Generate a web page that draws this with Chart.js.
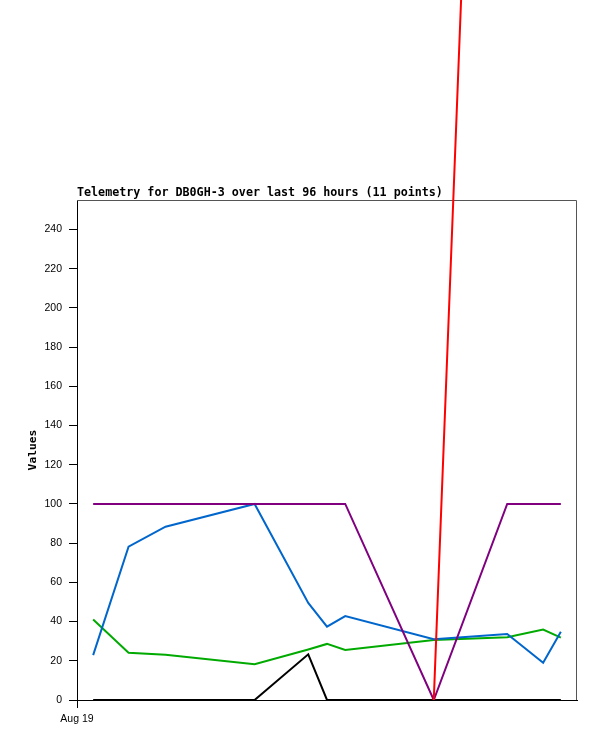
<!DOCTYPE html>
<html>
<head>
<meta charset="utf-8">
<script src="https://cdn.jsdelivr.net/npm/chart.js@4.4.0/dist/chart.umd.min.js"></script>
<style>
  html, body { margin: 0; padding: 0; background: #fff; }
  canvas { display: block; }
</style>
</head>
<body>
<canvas id="telemetry" width="597" height="741"></canvas>
<script>
// hours since start of the 96h window
const hours = [3.1, 9.9, 17.0, 34.1, 44.4, 48.0, 51.5, 68.5, 82.6, 89.5, 92.9];

const blueVals   = [22.9, 78.2, 88.4, 100, 49.5, 37.4, 42.8, 31.0, 33.7, 19.0, 34.8];
const greenVals  = [41.1, 24.1, 23.1, 18.2, 25.8, 28.6, 25.5, 30.6, 32.0, 35.9, 31.8];
const purpleVals = [100, 100, 100, 100, 100, 100, 100, 0, 100, 100, 100];
const blackVals  = [0, 0, 0, 0, 23.3, 0, 0, 0, 0, 0, 0];
const redVals    = [null, null, null, null, null, null, null, 0, 960, 960, 960];

const xTickLabels = ['Aug 19'];
const yTicks = [0, 20, 40, 60, 80, 100, 120, 140, 160, 180, 200, 220, 240];

const toPoints = vals => vals.map((v, i) => ({ x: hours[i], y: v }));

const LABEL_FONT = { family: "'Liberation Sans', Arial, sans-serif", size: 10.5 };

// title + grey top/right frame
const framePlugin = {
    id: 'frame',
    beforeDatasetsDraw(chart) {
        const { ctx, chartArea: a } = chart;
        ctx.save();
        ctx.strokeStyle = '#555555';
        ctx.lineWidth = 1;
        ctx.beginPath();
        ctx.moveTo(a.left, a.top + 0.5);
        ctx.lineTo(a.right - 0.5, a.top + 0.5);
        ctx.lineTo(a.right - 0.5, a.bottom);
        ctx.stroke();
        ctx.restore();
    },
    afterDraw(chart) {
        const { ctx, chartArea: a } = chart;
        ctx.save();
        ctx.fillStyle = '#000';
        ctx.font = "bold 11.7px 'DejaVu Sans Mono', monospace";
        ctx.textAlign = 'left';
        ctx.textBaseline = 'alphabetic';
        ctx.fillText('Telemetry for DB0GH-3 over last 96 hours (11 points)', a.left, a.top - 4);
        ctx.restore();
    }
};

new Chart(document.getElementById('telemetry'), {
    type: 'line',
    data: {
        datasets: [
            { data: toPoints(redVals), borderColor: '#ff0000', order: 0, clip: false },
            { data: toPoints(purpleVals), borderColor: '#800080', order: 1 },
            { data: toPoints(blueVals), borderColor: '#0066cc', order: 2 },
            { data: toPoints(greenVals), borderColor: '#00aa00', order: 3 },
            { data: toPoints(blackVals), borderColor: '#000000', order: 4 }
        ]
    },
    options: {
        responsive: false,
        animation: false,
        events: [],
        layout: { padding: { top: 200, right: 20, left: 0, bottom: 0 } },
        elements: {
            line: { borderWidth: 2, tension: 0, fill: false },
            point: { radius: 0 }
        },
        plugins: { legend: { display: false }, tooltip: { enabled: false }, title: { display: false } },
        scales: {
            x: {
                type: 'linear',
                min: 0,
                max: 96,
                afterBuildTicks: s => { s.ticks = [{ value: 0 }]; },
                afterFit: s => { s.height = 41; },
                border: { color: '#000', width: 1 },
                grid: { drawOnChartArea: false, drawTicks: true, tickLength: 8, color: '#000' },
                ticks: {
                    color: '#000', font: LABEL_FONT, padding: 5, maxRotation: 0,
                    callback: (v, i) => xTickLabels[i]
                }
            },
            y: {
                min: 0,
                max: 255,
                afterBuildTicks: s => { s.ticks = yTicks.map(v => ({ value: v })); },
                afterFit: s => { s.width = 77; },
                border: { color: '#000', width: 1 },
                grid: { drawOnChartArea: false, drawTicks: true, tickLength: 8, color: '#000' },
                ticks: { color: '#000', font: LABEL_FONT, padding: 7 },
                title: {
                    display: true,
                    text: 'Values',
                    color: '#000',
                    font: { family: "'DejaVu Sans Mono', monospace", size: 11.3, weight: 'bold' },
                    padding: { top: 26, bottom: 0 }
                }
            }
        }
    },
    plugins: [framePlugin]
});
</script>
</body>
</html>
